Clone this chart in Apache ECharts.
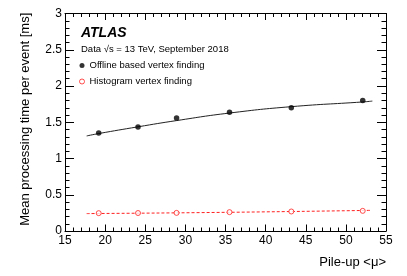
<!DOCTYPE html>
<html>
<head>
<meta charset="utf-8">
<script src="https://cdn.jsdelivr.net/npm/echarts@6/dist/echarts.min.js"></script>
<style>
html,body{margin:0;padding:0;background:#fff;}
#chart{width:407px;height:276px;}
</style>
</head>
<body>
<div id="chart"></div>
<script>
// Data
var mu = [19.2, 24.1, 28.9, 35.5, 43.2, 52.1];
var offline = [1.352, 1.435, 1.558, 1.637, 1.70, 1.80];
var histogram = [0.246, 0.248, 0.25, 0.26, 0.269, 0.278];
// fit curves
var offlineFitMu = [17.7, 19.2, 24.1, 28.9, 35.5, 43.2, 52.1, 53.3];
var offlineFit = [1.311, 1.344, 1.437, 1.523, 1.627, 1.715, 1.78, 1.792];
var histFitMu = [17.7, 35.5, 53.2];
var histFit = [0.24, 0.258, 0.285];
var xTicks = [15, 20, 25, 30, 35, 40, 45, 50, 55];
var yTicks = [0, 0.5, 1, 1.5, 2, 2.5, 3];

var FONT = 'Liberation Sans, Arial, Helvetica, sans-serif';
function pairs(xs, ys){ return xs.map(function(x,i){ return [x, ys[i]]; }); }

var chart = echarts.init(document.getElementById('chart'), null, {renderer:'canvas'});

function xAx(pos, showLabel){
  return {
    type:'value', position:pos, min:xTicks[0], max:xTicks[xTicks.length-1], interval:5,
    axisLine:{show:true, onZero:false, lineStyle:{color:'#000', width:1}},
    axisTick:{show:true, inside:true, length:6.5, lineStyle:{color:'#000', width:1}},
    minorTick:{show:true, splitNumber:5, length:3.5, lineStyle:{color:'#000', width:1}},
    splitLine:{show:false},
    axisLabel:{show:showLabel, color:'#000', fontSize:12, fontFamily:FONT, margin:4, showMinLabel:true, showMaxLabel:true}
  };
}
function yAx(pos, showLabel){
  return {
    type:'value', position:pos, min:yTicks[0], max:yTicks[yTicks.length-1], interval:0.5,
    axisLine:{show:true, onZero:false, lineStyle:{color:'#000', width:1}},
    axisTick:{show:true, inside:true, length:9, lineStyle:{color:'#000', width:1}},
    minorTick:{show:true, splitNumber:5, length:4.5, lineStyle:{color:'#000', width:1}},
    splitLine:{show:false},
    axisLabel:{show:showLabel, color:'#000', fontSize:12, fontFamily:FONT, margin:3, showMinLabel:true, showMaxLabel:true}
  };
}

var option = {
  animation:false,
  backgroundColor:'#fff',
  grid:{left:65, right:21, top:13.5, bottom:45, containLabel:false},
  xAxis:[xAx('bottom', true), xAx('top', false)],
  yAxis:[yAx('left', true), yAx('right', false)],
  legend:{
    orient:'vertical', left:79, top:60.5, padding:0, itemWidth:5, itemHeight:5, itemGap:6,
    selectedMode:false,
    textStyle:{fontSize:9.5, color:'#000', fontFamily:FONT},
    data:[
      {name:'Offline based vertex finding', icon:'circle', itemStyle:{color:'#000', borderWidth:0}},
      {name:'Histogram vertex finding', icon:'circle', itemStyle:{color:'#fff', borderColor:'#ff2020', borderWidth:1}}
    ]
  },
  series:[
    {type:'line', name:'offfit', data:pairs(offlineFitMu, offlineFit), smooth:true, showSymbol:false,
     lineStyle:{color:'#222', width:1}, silent:true, z:1},
    {type:'line', name:'histfit', data:pairs(histFitMu, histFit), smooth:true, showSymbol:false,
     lineStyle:{color:'#ff2020', width:1, type:[3,2]}, silent:true, z:1},
    {type:'scatter', name:'Offline based vertex finding', data:pairs(mu, offline), symbol:'circle', symbolSize:5.5,
     itemStyle:{color:'#000'}, z:3, silent:true, emphasis:{disabled:true}},
    {type:'scatter', name:'Histogram vertex finding', data:pairs(mu, histogram), symbol:'circle', symbolSize:5,
     itemStyle:{color:'#fff', borderColor:'#ff2020', borderWidth:1}, z:3, silent:true, emphasis:{disabled:true}}
  ],
  graphic:[
    {type:'text', left:81, top:26, style:{text:'ATLAS', fontFamily:FONT, fontSize:14, fontWeight:'bold', fontStyle:'italic', fill:'#000'}},
    {type:'text', left:81, top:44.5, style:{text:'Data \u221As = 13 TeV, September 2018', fontFamily:FONT, fontSize:9.5, fill:'#000'}},
    {type:'text', x:386, y:262, style:{text:'Pile-up <\u03BC>', fontFamily:FONT, fontSize:13, fill:'#000', align:'right', verticalAlign:'middle'}},
    {type:'text', x:25, y:12.7, rotation:Math.PI/2, style:{text:'Mean processing time per event [ms]', fontFamily:FONT, fontSize:13, fill:'#000', align:'right', verticalAlign:'middle'}}
  ]
};
chart.setOption(option);
</script>
</body>
</html>
